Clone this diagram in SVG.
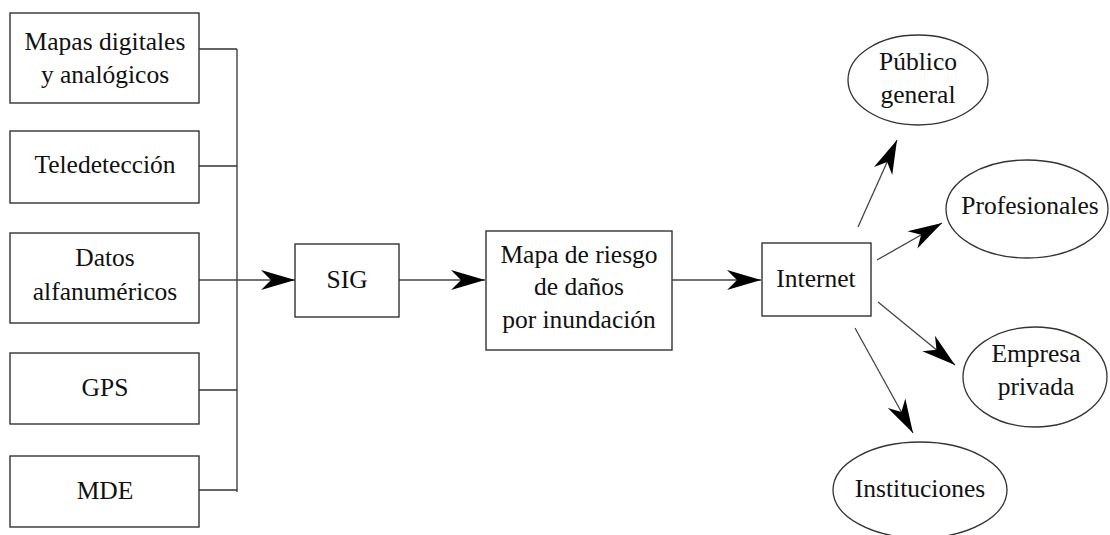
<svg xmlns="http://www.w3.org/2000/svg" width="1110" height="535" viewBox="0 0 1110 535">
<style>
.box{fill:#fff;stroke:#333;stroke-width:1.4}
.ell{fill:#fff;stroke:#333;stroke-width:1.3}
.t{font-family:"Liberation Serif","DejaVu Serif",serif;font-size:25.5px;fill:#111;text-anchor:middle}
.ln{stroke:#333;stroke-width:1.3;fill:none}
.ar{stroke:#444;stroke-width:1.3;fill:none;marker-end:url(#ah)}
</style>
<defs>
<marker id="ah" markerUnits="userSpaceOnUse" viewBox="-36 -12 38 24" refX="0" refY="0" markerWidth="38" markerHeight="24" orient="auto">
<path d="M0,0 L-34,-10 L-24,0 L-34,10 Z" fill="#000"/>
</marker>
</defs>
<rect width="1110" height="535" fill="#fff"/>
<g id="connectors">
<path class="ln" d="M199,49 H237 M199,166 H237 M199,390 H237 M199,490 H237 M237,49 V492"/>
<path class="ar" d="M199,280 H295"/>
<path class="ar" d="M399,280 H485"/>
<path class="ar" d="M672,280 H761"/>
<path class="ar" d="M858,227 L897,140"/>
<path class="ar" d="M877,260 L942,223"/>
<path class="ar" d="M878,302 L955,365"/>
<path class="ar" d="M855,328 L913,433"/>
</g>
<g id="n-mapas"><rect class="box" x="10" y="13" width="189" height="90"/><text class="t" x="105" y="50">Mapas digitales</text><text class="t" x="105" y="83">y analógicos</text></g>
<g id="n-tele"><rect class="box" x="10" y="131" width="189" height="72"/><text class="t" x="105" y="173">Teledetección</text></g>
<g id="n-datos"><rect class="box" x="10" y="233" width="189" height="90"/><text class="t" x="105" y="266">Datos</text><text class="t" x="105" y="300">alfanuméricos</text></g>
<g id="n-gps"><rect class="box" x="10" y="353" width="189" height="71"/><text class="t" x="105" y="396">GPS</text></g>
<g id="n-mde"><rect class="box" x="10" y="456" width="189" height="71"/><text class="t" x="105" y="499">MDE</text></g>
<g id="n-sig"><rect class="box" x="295" y="244" width="104" height="73"/><text class="t" x="347" y="288">SIG</text></g>
<g id="n-mapa"><rect class="box" x="486" y="231" width="186" height="119"/><text class="t" x="579" y="263">Mapa de riesgo</text><text class="t" x="579" y="295">de daños</text><text class="t" x="579" y="328">por inundación</text></g>
<g id="n-internet"><rect class="box" x="762" y="243" width="109" height="73"/><text class="t" x="816" y="287">Internet</text></g>
<g id="n-publico"><ellipse class="ell" cx="918" cy="80" rx="70" ry="45"/><text class="t" x="918" y="70">Público</text><text class="t" x="918" y="103">general</text></g>
<g id="n-prof"><ellipse class="ell" cx="1027" cy="209" rx="81" ry="49"/><text class="t" x="1030" y="214">Profesionales</text></g>
<g id="n-empresa"><ellipse class="ell" cx="1035" cy="377" rx="72" ry="50"/><text class="t" x="1036" y="362">Empresa</text><text class="t" x="1036" y="395">privada</text></g>
<g id="n-inst"><ellipse class="ell" cx="920" cy="490" rx="87" ry="48"/><text class="t" x="920" y="497">Instituciones</text></g>
</svg>
